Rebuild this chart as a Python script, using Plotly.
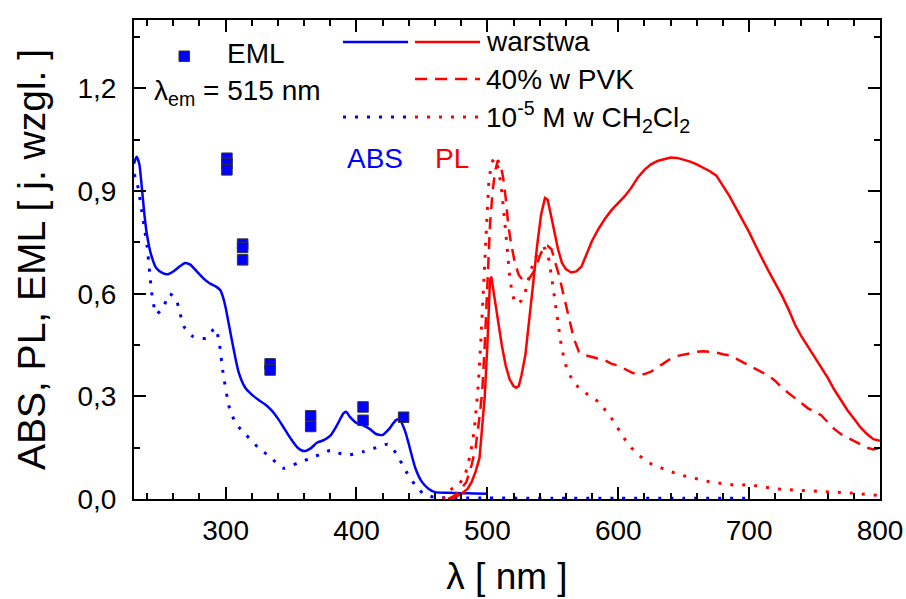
import plotly.graph_objects as go

# ---------------- data ----------------
abs_film_x = [230, 232, 234, 236, 238, 240, 243, 247, 252, 256, 260, 265, 269, 273, 278, 283, 288, 293,
              296, 298, 300, 305, 310, 315, 320, 325, 330, 335, 340, 345, 350, 355, 360, 365, 370, 375,
              380, 385, 390, 392, 395, 400, 405, 410, 415, 420, 425, 430, 433, 437, 440, 445, 450, 455,
              460, 470, 480, 490, 500]
abs_film_y = [0.98, 1.0, 0.98, 0.91, 0.83, 0.77, 0.715, 0.675, 0.66, 0.657, 0.665, 0.68, 0.69, 0.685, 0.665,
              0.645, 0.63, 0.62, 0.61, 0.59, 0.56, 0.46, 0.37, 0.325, 0.305, 0.29, 0.277, 0.26, 0.235,
              0.205, 0.175, 0.15, 0.14, 0.148, 0.165, 0.172, 0.185, 0.215, 0.25, 0.255, 0.24, 0.222,
              0.215, 0.205, 0.19, 0.187, 0.205, 0.23, 0.232, 0.2, 0.16, 0.09, 0.05, 0.03, 0.02, 0.018,
              0.017, 0.016, 0.015]

abs_sol_x = [230, 232, 234, 236, 238, 240, 242, 244, 247, 250, 253, 257, 262, 265, 268, 275, 285, 292,
             295, 298, 303, 308, 316, 325, 334, 344, 355, 364, 372, 380, 386, 392, 400, 405, 415, 424,
             430, 438, 445, 451, 460, 480, 500, 550, 600, 650, 700]
abs_sol_y = [0.95, 0.93, 0.89, 0.84, 0.79, 0.74, 0.66, 0.59, 0.54, 0.55, 0.565, 0.60, 0.585, 0.545, 0.505,
             0.475, 0.47, 0.50, 0.46, 0.37, 0.265, 0.22, 0.186, 0.15, 0.123, 0.09, 0.105, 0.118, 0.13,
             0.142, 0.135, 0.128, 0.133, 0.138, 0.15, 0.16, 0.135, 0.08, 0.04, 0.016, 0.005, 0.003,
             0.003, 0.002, 0.002, 0.002, 0.002]

pl_film_x = [470, 475, 480, 485, 488, 491, 494, 496, 498, 500, 501, 502, 503, 505, 508, 511, 514, 517,
             520, 522, 524, 526, 529, 532, 535, 538, 541, 544, 546, 548, 551, 554, 557, 560, 564, 568,
             572, 576, 580, 585, 590, 595, 600, 605, 610, 615, 620, 625, 630, 635, 640, 645, 650, 655,
             660, 665, 670, 675, 680, 685, 690, 695, 700, 705, 710, 715, 720, 725, 730, 735, 740, 745,
             750, 755, 760, 765, 770, 775, 780, 785, 790, 795, 800]
pl_film_y = [0.0, 0.005, 0.015, 0.03, 0.05, 0.08, 0.12, 0.2, 0.3, 0.45, 0.56, 0.64, 0.65, 0.6, 0.52,
             0.45, 0.39, 0.35, 0.33, 0.325, 0.33, 0.36, 0.42, 0.52, 0.63, 0.74, 0.83, 0.88, 0.875, 0.84,
             0.78, 0.73, 0.69, 0.672, 0.662, 0.665, 0.68, 0.72, 0.755, 0.79, 0.82, 0.845, 0.865, 0.885,
             0.91, 0.94, 0.962, 0.978, 0.988, 0.994, 0.998, 0.997, 0.992, 0.986, 0.978, 0.968, 0.958,
             0.945, 0.915, 0.885, 0.85, 0.815, 0.78, 0.74, 0.70, 0.665, 0.63, 0.595, 0.555, 0.51,
             0.475, 0.445, 0.415, 0.385, 0.355, 0.32, 0.29, 0.26, 0.235, 0.21, 0.19, 0.175, 0.17]

pl_pvk_x = [470, 475, 480, 484, 488, 491, 494, 496, 498, 500, 502, 504, 506, 508, 510, 512, 514, 516,
            518, 521, 524, 527, 530, 533, 537, 540, 543, 546, 549, 552, 555, 558, 562, 566, 570, 575,
            580, 585, 590, 595, 600, 605, 610, 615, 620, 625, 630, 635, 640, 645, 650, 655, 660, 665,
            670, 675, 680, 685, 690, 695, 700, 705, 710, 715, 720, 725, 730, 735, 740, 745, 750, 755,
            760, 765, 770, 775, 780, 785, 790, 795, 800]
pl_pvk_y = [0.0, 0.01, 0.03, 0.05, 0.1, 0.15, 0.24, 0.31, 0.45, 0.65, 0.8, 0.9, 0.96, 0.99, 0.98, 0.94,
            0.88, 0.8, 0.75, 0.69, 0.655, 0.64, 0.635, 0.65, 0.675, 0.71, 0.735, 0.74, 0.73, 0.69, 0.65,
            0.6, 0.53, 0.47, 0.43, 0.42, 0.415, 0.41, 0.405, 0.395, 0.39, 0.38, 0.37, 0.363, 0.365,
            0.372, 0.385, 0.398, 0.41, 0.418, 0.422, 0.427, 0.43, 0.432, 0.43, 0.428, 0.423, 0.42,
            0.41, 0.4, 0.39, 0.38, 0.37, 0.36, 0.345, 0.325, 0.31, 0.295, 0.28, 0.265, 0.255, 0.245,
            0.225, 0.205, 0.19, 0.18, 0.168, 0.16, 0.15, 0.145, 0.15]

pl_sol_x = [466, 470, 473, 478, 483, 487, 490, 493, 495, 497, 499, 501, 503, 505, 507, 509, 511, 513,
            515, 517, 519, 521, 523, 526, 529, 532, 535, 538, 541, 544, 547, 550, 553, 556, 559, 562,
            566, 570, 575, 580, 585, 590, 595, 600, 605, 610, 615, 620, 625, 630, 640, 650, 660, 670,
            680, 690, 700, 710, 720, 730, 740, 750, 760, 770, 780, 790, 800]
pl_sol_y = [0.0, 0.02, 0.03, 0.04, 0.07, 0.13, 0.2, 0.33, 0.46, 0.62, 0.8, 0.92, 0.98, 0.995, 0.985,
            0.955, 0.9, 0.83, 0.74, 0.65, 0.6, 0.575, 0.57, 0.58, 0.605, 0.65, 0.69, 0.715, 0.73, 0.733,
            0.7, 0.625, 0.54, 0.46, 0.4, 0.37, 0.34, 0.325, 0.31, 0.298, 0.284, 0.26, 0.235, 0.205,
            0.175, 0.15, 0.13, 0.115, 0.103, 0.095, 0.08, 0.068, 0.058, 0.05, 0.045, 0.04, 0.042,
            0.035, 0.03, 0.027, 0.025, 0.023, 0.022, 0.02, 0.017, 0.013, 0.01]

eml_x = [301, 301, 301, 313, 313, 313, 334, 334, 365, 365, 405, 405, 436]
eml_y = [0.996, 0.981, 0.962, 0.745, 0.735, 0.699, 0.395, 0.377, 0.243, 0.212, 0.269, 0.230, 0.239]

x_ticks = [300, 400, 500, 600, 700, 800]
y_ticks = [0.0, 0.3, 0.6, 0.9, 1.2]

BLUE = "#0000FF"
RED = "#FF0000"
FONT = "Liberation Sans, Arial, sans-serif"
DOT = "3px,9px"
DASH = "12px,8px"

fig = go.Figure()
fig.add_trace(go.Scatter(x=abs_sol_x, y=abs_sol_y, mode="lines",
                         line=dict(color=BLUE, width=3, dash=DOT, shape="spline", smoothing=0.6)))
fig.add_trace(go.Scatter(x=abs_film_x, y=abs_film_y, mode="lines",
                         line=dict(color=BLUE, width=2.5, shape="spline", smoothing=0.6)))
fig.add_trace(go.Scatter(x=pl_sol_x, y=pl_sol_y, mode="lines",
                         line=dict(color=RED, width=3, dash=DOT)))
fig.add_trace(go.Scatter(x=pl_pvk_x, y=pl_pvk_y, mode="lines",
                         line=dict(color=RED, width=2.5, dash=DASH)))
fig.add_trace(go.Scatter(x=pl_film_x, y=pl_film_y, mode="lines",
                         line=dict(color=RED, width=2.5)))
fig.add_trace(go.Scatter(x=eml_x, y=eml_y, mode="markers",
                         marker=dict(symbol="square", size=10.5, color=BLUE,
                                     line=dict(color="#333333", width=1))))

# ---------------- geometry (pixels) ----------------
W_S, H_S = 906, 599
L, R, T, B = 134.0, 880.0, 20.0, 499.0

def px(x):
    return (x - L) / (R - L)
def py(y):
    return (B - y) / (B - T)

shapes = []
def seg(x0, x1, y, color, dash=None, width=2.5):
    shapes.append(dict(type="line", xref="paper", yref="paper",
                       x0=px(x0), x1=px(x1), y0=py(y), y1=py(y),
                       line=dict(color=color, width=width, dash=dash)))

seg(343, 408, 42, BLUE)
seg(415, 480, 42, RED)
seg(415, 480, 79, RED, DASH)
seg(343, 408, 117, BLUE, DOT, 3)
seg(415, 480, 117, RED, DOT, 3)
shapes.append(dict(type="rect", xref="paper", yref="paper",
                   x0=px(179), x1=px(189.5), y0=py(61.5), y1=py(51),
                   fillcolor=BLUE, line=dict(color="#333333", width=1)))

annots = []
def txt(x, y, s, color="black", size=28, xanchor="left"):
    annots.append(dict(xref="paper", yref="paper", x=px(x), y=py(y), text=s,
                       showarrow=False, xanchor=xanchor, yanchor="middle",
                       font=dict(family=FONT, size=size, color=color)))

txt(484, 42, "warstwa")
txt(484, 79, "40% w PVK")
txt(484, 117, "10<sup>-5</sup> M w CH<sub>2</sub>Cl<sub>2</sub>")
txt(225, 54, "EML")
txt(152, 92, "λ<sub>em</sub> = 515 nm")
txt(375, 158, "ABS", BLUE, 28, "center")
txt(452, 158, "PL", RED, 28, "center")

axis_common = dict(showline=True, linecolor="black", linewidth=2, mirror="ticks",
                   ticks="inside", ticklen=12, tickwidth=2, tickcolor="black",
                   showgrid=False, zeroline=False, automargin=False,
                   tickfont=dict(family=FONT, size=28, color="black"))

fig.update_layout(
    width=W_S, height=H_S,
    margin=dict(l=L, r=W_S - R, t=T, b=H_S - B, autoexpand=False),
    paper_bgcolor="white", plot_bgcolor="white",
    showlegend=False,
    separators=", ",
    shapes=shapes, annotations=annots,
    xaxis=dict(range=[230, 800], tickvals=x_ticks,
               minor=dict(dtick=20, tick0=0, ticks="inside", ticklen=6, tickwidth=1.5, tickcolor="black"),
               title=dict(text="λ [ nm ]", font=dict(family=FONT, size=37, color="black"), standoff=19),
               ticklabelstandoff=5,
               **axis_common),
    yaxis=dict(range=[0, 1.4], tickvals=y_ticks, tickformat=".1f",
               minor=dict(dtick=0.15, tick0=0, ticks="inside", ticklen=6, tickwidth=1.5, tickcolor="black"),
               title=dict(text="ABS, PL, EML [ j. wzgl. ]", font=dict(family=FONT, size=39, color="black"), standoff=20),
               ticklabelstandoff=10,
               **axis_common),
)

# remove the browser's default 8px page margin so the figure fills the window exactly
fig.write_html("out.html",
               config={"displayModeBar": False},
               post_script="document.body.style.margin='0';document.body.style.overflow='hidden';")
